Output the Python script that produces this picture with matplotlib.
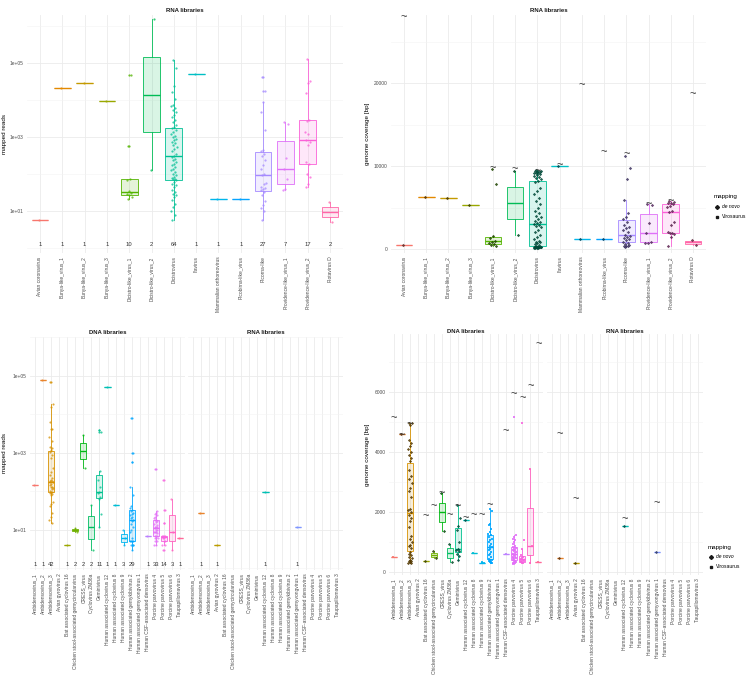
import numpy as np
import matplotlib
matplotlib.use("Agg")
import matplotlib.pyplot as plt
from matplotlib import cbook
from matplotlib.lines import Line2D
from matplotlib.ticker import NullFormatter

plt.rcParams['font.family'] = ['Liberation Sans', 'DejaVu Sans']

# ---------------- data ----------------
rna_viruses = ["Avian coronavirus", "Bunya-like_virus_1", "Bunya-like_virus_2", "Bunya-like_virus_3",
               "Dicistro-like_virus_1", "Dicistro-like_virus_2", "Dicistrovirus", "Ifavirus",
               "Mammalian orthoreovirus", "Picobirna-like_virus", "Picorna-like",
               "Providence-like_virus_1", "Providence-like_virus_2", "Rotavirus D"]

dna_viruses = ["Ambidensovirus_1", "Ambidensovirus_2", "Ambidensovirus_3", "Avian gyrovirus 2",
               "Bat associated cyclovirus 16", "Chicken stool-associated gemycircularvirus",
               "CRESS_virus", "Cyclovirus ZM36a", "Geminivirus", "Human associated cyclovirus 12",
               "Human associated cyclovirus 8", "Human associated cyclovirus 9",
               "Human associated gemykibivirus 2", "Human associated gemyvongvirus 1",
               "Human CSF-associated densovirus", "Porcine parvovirus 4", "Porcine parvovirus 5",
               "Porcine parvovirus 6", "Taupapillomavirus 3"]

# top-left: mapped reads, RNA libraries
tl_reads = [
    [6],
    [22000],
    [30000],
    [9400],
    [22, 24, 28, 29, 32, 35, 70, 75, 600, 48000],
    [130, 1550000],
    [120000, 76000, 24000, 17000, 11000, 7600, 7000, 6000, 5400, 4800, 4000, 3500, 3000, 2600, 2200, 1900,
     1750, 1550, 1400, 1250, 1100, 1000, 900, 830, 750, 700, 610, 550, 480, 420, 360, 320,
     290, 260, 240, 215, 195, 175, 158, 142, 128, 116, 104, 94, 85, 80, 76, 73,
     70, 62, 56, 50, 45, 37, 33, 30, 27, 24, 20, 16, 13, 10, 8, 6],
    [52000],
    [22],
    [21],
    [43000, 17500, 9000, 4700, 1550, 465, 430, 360, 310, 240, 175, 142, 104, 94, 58, 56, 45, 43, 40, 37,
     33, 27, 19, 15, 12, 10, 6],
    [2600, 2300, 280, 142, 76, 41, 38],
    [128000, 33000, 29000, 16000, 3000, 2750, 1400, 1250, 830, 750, 630, 215, 186, 104, 85, 56, 45],
    [18, 5],
]

# top-right: genome coverage, RNA libraries
tr_cov = [
    [500],
    [6300],
    [6100],
    [5300],
    [9640, 7850, 1550, 1300, 1000, 900, 700, 560, 500, 400],
    [9400, 1690],
    [9500, 9450, 9400, 9350, 9300, 9250, 9200, 9150, 9100, 9000, 8900, 8800, 8700, 8500, 8400, 8250,
     8100, 7400, 7000, 6600, 6200, 5800, 5400, 5000, 4600, 4300, 4000, 3800, 3600, 3400, 3200, 3100,
     3000, 2900, 2800, 2600, 2300, 2000, 1700, 1400, 1200, 1000, 900, 800, 700, 600, 500, 420,
     300, 290, 280, 270, 260, 250, 240, 230, 220, 210, 200, 190, 180, 170, 160, 150],
    [10000],
    [1160],
    [1245],
    [11250, 9800, 8400, 5900, 4300, 3900, 3600, 3300, 2900, 2700, 2550, 2300, 2000, 1700, 1600, 1450,
     1300, 1200, 1100, 900, 700, 550, 480, 420, 380, 330, 300],
    [5420, 5260, 3090, 1890, 900, 760, 680],
    [5820, 5700, 5580, 5500, 5420, 5180, 5020, 4540, 4500, 3290, 2890, 2050, 1970, 1890, 1810, 1490, 400],
    [1100, 500],
]
tr_genome_len = [27950, np.nan, np.nan, np.nan, 9760, 9600, 9440, 10120, 19760, 11730, 11450, 5420, 5820, 18700]
tr_mapping = ["de novo"] * 14

# bottom-left: mapped reads, DNA viruses
bl_dna_reads = [
    [143],
    [75000],
    [70000, 18500, 15600, 6100, 4100, 4000, 2600, 2000, 1430, 1300, 1170, 1020, 860, 720, 400, 308, 260,
     219, 201, 185, 179, 170, 170, 156, 143, 131, 127, 121, 111, 102, 97, 93, 90, 86, 79, 51, 47, 41, 28,
     22, 18, 15],
    [],
    [4],
    [11, 9],
    [2900, 410],
    [45, 3],
    [3980, 3360, 336, 201, 131, 97, 90, 72, 61, 25, 12],
    [50000],
    [45],
    [10, 6, 4],
    [7870, 984, 589, 131, 79, 41, 37, 32, 31, 28, 26, 24, 22, 20, 18, 17, 14, 12, 10, 9, 6, 5, 5, 5, 5,
     4, 4, 4, 3],
    [],
    [7],
    [378, 31, 28, 26, 24, 22, 20, 18, 18, 17, 16, 14, 13, 12, 12, 12, 11, 10, 10, 9, 9, 9, 8, 7, 7, 7,
     6, 6, 6, 5, 5, 4, 4],
    [191, 32, 15, 7, 7, 7, 7, 6, 6, 5, 5, 4, 4, 3],
    [64, 9, 3],
    [6],
]
bl_rna_reads = [[], [28], [], [4], [], [], [], [], [], [95], [], [], [], [12], [], [], [], [], []]

# bottom-right: genome coverage, DNA viruses
br_dna_cov = [
    [510],
    [4600],
    [4970, 4950, 4900, 4400, 4300, 4200, 4100, 4000, 3900, 3800, 3700, 3400, 3200, 3100, 2950, 2800,
     2700, 2500, 2100, 2050, 2000, 1900, 1800, 1700, 1500, 1200, 1100, 1000, 900, 850, 800, 650, 600,
     550, 500, 450, 400, 380, 350, 320, 300, 290],
    [],
    [360],
    [700, 450],
    [2630, 1350],
    [940, 320],
    [2230, 1800, 1520, 1400, 1000, 780, 740, 700, 600, 520, 400],
    [1740],
    [640],
    [320, 310, 300],
    [2090, 2030, 1610, 1550, 1440, 1330, 1270, 1220, 1160, 1110, 1050, 990, 940, 880, 830, 770, 720,
     660, 600, 550, 490, 440, 400, 380, 360, 335, 325, 315, 300],
    [],
    [600],
    [5180, 1220, 1160, 1110, 1050, 990, 940, 880, 830, 800, 770, 740, 720, 690, 660, 630, 600, 580,
     550, 510, 490, 470, 450, 425, 400, 380, 360, 335, 325, 315, 300, 290, 280],
    [4980, 1050, 770, 550, 490, 470, 440, 400, 380, 360, 335, 325, 315, 290],
    [3420, 860, 300],
    [320],
]
br_rna_cov = [[], [477], [], [310], [], [], [], [], [], [1530], [], [], [], [667], [], [], [], [], []]
br_dna_len = [5120, 4570, 4930, np.nan, 1870, 2180, 2630, 1880, 2210, 1780, 1880, 1880, 2240, np.nan,
              4700, 5920, 5810, 6200, 7580]
br_rna_len = [np.nan, 4600, np.nan, 2430, np.nan, np.nan, np.nan, np.nan, np.nan, 1770, np.nan, np.nan,
              np.nan, 2300, np.nan, np.nan, np.nan, np.nan, np.nan]
br_dna_mapping = ["Virosaurus", "de novo", "de novo", "de novo", "de novo", "de novo", "de novo",
                  "de novo", "de novo", "de novo", "Virosaurus", "Virosaurus", "Virosaurus", "de novo",
                  "Virosaurus", "Virosaurus", "Virosaurus", "Virosaurus", "Virosaurus"]
br_rna_mapping = ["de novo"] * 19

log_major = [1e1, 1e3, 1e5]
log_major_labels = ["1e+01", "1e+03", "1e+05"]
log_minor = [1e0, 1e2, 1e4, 1e6]


# ---------------- helpers ----------------
def hcl2rgb(h, c, l):
    Xn, Yn, Zn = 95.047, 100.0, 108.883
    hr = np.deg2rad(h)
    U, V = c * np.cos(hr), c * np.sin(hr)
    Y = Yn * ((l + 16) / 116) ** 3 if l > 8 else Yn * l / 903.3
    den = Xn + 15 * Yn + 3 * Zn
    un, vn = 4 * Xn / den, 9 * Yn / den
    u = U / (13 * l) + un
    v = V / (13 * l) + vn
    X = 9 * Y * u / (4 * v)
    Z = -X / 3 - 5 * Y + 3 * Y / v
    X, Y, Z = X / 100, Y / 100, Z / 100
    rgb = [3.240479 * X - 1.537150 * Y - 0.498535 * Z,
           -0.969256 * X + 1.875992 * Y + 0.041556 * Z,
           0.055648 * X - 0.204043 * Y + 1.057311 * Z]
    out = []
    for t in rgb:
        t = max(t, 0.0)
        t = 12.92 * t if t <= 0.0031308 else 1.055 * t ** (1 / 2.4) - 0.055
        out.append(min(max(t, 0.0), 1.0))
    return tuple(out)


def hue_pal(n):
    return [hcl2rgb(h % 360, 100, 65) for h in np.linspace(15, 375, n + 1)[:-1]]


W, H = 750, 686
fig = plt.figure(figsize=(W / 100, H / 100), dpi=100)
fig.patch.set_facecolor("white")


def add_ax(x0, x1, y0, y1):
    return fig.add_axes([x0 / W, 1 - y1 / H, (x1 - x0) / W, (y1 - y0) / H])


GRID = "#EBEBEB"
TICKC = "#4D4D4D"


def style(ax, cats, log, yticks, ylabels, yminor, ylim, showy=True):
    n = len(cats)
    for s in ax.spines.values():
        s.set_visible(False)
    if log:
        ax.set_yscale("log")
    ax.set_xlim(-0.6, n - 0.4)
    ax.set_ylim(*ylim)
    ax.set_xticks(range(n))
    ax.set_xticklabels(cats, rotation=90, ha="center", va="top")
    ax.set_yticks(yticks)
    ax.set_yticklabels(ylabels)
    ax.set_yticks(yminor, minor=True)
    ax.yaxis.set_minor_formatter(NullFormatter())
    ax.set_axisbelow(True)
    ax.grid(True, axis="x", which="major", color=GRID, lw=0.6)
    ax.grid(True, axis="y", which="major", color=GRID, lw=0.6)
    ax.grid(True, axis="y", which="minor", color="#F3F3F3", lw=0.4)
    ax.tick_params(axis="both", which="both", length=0, labelsize=3.5, colors=TICKC, pad=2.5)
    if not showy:
        ax.tick_params(axis="y", labelleft=False)


def draw(ax, values, cols, log, mapping=None, lengths=None, counts=False, jw=0.17, ps=2.6):
    for i, vals in enumerate(values):
        if lengths is not None and not np.isnan(lengths[i]):
            ax.text(i, lengths[i], "~", ha="center", va="center", fontsize=8, color="#3a3a3a", zorder=6)
        if len(vals) == 0:
            continue
        v = np.asarray(vals, float)
        col = cols[i]
        tv = np.log10(v) if log else v
        st = cbook.boxplot_stats(tv, whis=1.5)[0]
        if log:
            for k in ("med", "q1", "q3", "whislo", "whishi", "mean"):
                st[k] = 10 ** st[k]
            st["fliers"] = 10 ** np.asarray(st["fliers"])
        ax.bxp([st], positions=[i], widths=0.75, patch_artist=True, showfliers=False, showcaps=False,
               manage_ticks=False,
               boxprops=dict(facecolor=(*col, 0.15), edgecolor=col, linewidth=0.6),
               medianprops=dict(color=col, linewidth=1.0),
               whiskerprops=dict(color=col, linewidth=0.6))
        fl = np.asarray(st["fliers"])
        k = np.arange(len(v))
        off = ((k * 0.6180339887 + 0.31) % 1.0 - 0.5) * 2 * jw
        if mapping is None:
            if len(fl):
                ax.scatter(np.full(len(fl), i), fl, s=ps, color=col, lw=0, alpha=0.8, zorder=3)
            ax.scatter(i + off, v, s=ps, color=col, alpha=0.75, lw=0, zorder=4)
        else:
            if mapping[i] == "de novo":
                dark = tuple(np.array(col) * 0.38)
                ax.scatter(i + off, v, s=ps * 1.1, marker="D", color=dark, alpha=0.85, lw=0, zorder=4)
            else:
                ax.scatter(i + off, v, s=ps * 1.1, marker="s", color=col, alpha=0.85, lw=0, zorder=4)
        if counts:
            ax.text(i, 1.25, str(len(vals)), ha="center", va="center", fontsize=4.2, color="#333333")


rna_cols = hue_pal(len(rna_viruses))
dna_cols = hue_pal(len(dna_viruses))

# ---- top-left ----
ax = add_ax(26.6, 343.4, 15, 253)
style(ax, rna_viruses, True, log_major, log_major_labels, log_minor, (10 ** -0.127, 10 ** 6.305))
draw(ax, tl_reads, rna_cols, True, counts=True, jw=0.12)

# ---- top-right ----
ax = add_ax(390.7, 706.3, 15, 253)
style(ax, rna_viruses, False, [0, 10000, 20000], ["0", "10000", "20000"], [5000, 15000, 25000], (-480, 28195))
draw(ax, tr_cov, rna_cols, False, mapping=tr_mapping, lengths=tr_genome_len, jw=0.17)

# ---- bottom-left ----
ax = add_ax(30.2, 184.8, 337, 570)
style(ax, dna_viruses, True, log_major, log_major_labels, log_minor, (10 ** -0.044, 10 ** 5.133))
draw(ax, bl_dna_reads, dna_cols, True, counts=True, jw=0.22, ps=2.4)
ax = add_ax(188.2, 342.8, 337, 570)
style(ax, dna_viruses, True, log_major, log_major_labels, log_minor, (10 ** -0.044, 10 ** 5.133), showy=False)
draw(ax, bl_rna_reads, dna_cols, True, counts=True, jw=0.22, ps=2.4)

# ---- bottom-right ----
ax = add_ax(389.2, 543.1, 334, 575)
style(ax, dna_viruses, False, [0, 2000, 4000, 6000], ["0", "2000", "4000", "6000"],
      [1000, 3000, 5000, 7000], (-100, 7933))
draw(ax, br_dna_cov, dna_cols, False, mapping=br_dna_mapping, lengths=br_dna_len, jw=0.22, ps=2.4)
ax = add_ax(546.8, 702.6, 334, 575)
style(ax, dna_viruses, False, [0, 2000, 4000, 6000], ["0", "2000", "4000", "6000"],
      [1000, 3000, 5000, 7000], (-100, 7933), showy=False)
draw(ax, br_rna_cov, dna_cols, False, mapping=br_rna_mapping, lengths=br_rna_len, jw=0.22, ps=2.4)

# ---- strip titles ----
def ftext(x, y, s, **kw):
    fig.text(x / W, 1 - y / H, s, **kw)

for (x, y, s) in [(185, 11, "RNA libraries"), (548.5, 11, "RNA libraries"),
                  (107.5, 333, "DNA libraries"), (265.5, 333, "RNA libraries"),
                  (466, 331, "DNA libraries"), (624.7, 331, "RNA libraries")]:
    ftext(x, y, s, ha="center", va="center", fontsize=4.3, fontweight="bold", color="#1A1A1A")

# ---- axis titles ----
ftext(5, 134, "mapped reads", rotation=90, ha="center", va="center", fontsize=4.5)
ftext(5, 453, "mapped reads", rotation=90, ha="center", va="center", fontsize=4.5)
ftext(368, 134, "genome coverage [bp]", rotation=90, ha="center", va="center", fontsize=4.5)
ftext(368, 455, "genome coverage [bp]", rotation=90, ha="center", va="center", fontsize=4.5)

# ---- legends ----
def legend(x, y):
    ftext(x, y, "mapping", ha="left", va="center", fontsize=4.5)
    for j, (lab, mk, st) in enumerate([("de novo", "D", "italic"), ("Virosaurus", "s", "normal")]):
        yy = y + 10 + 9.5 * j
        fig.add_artist(Line2D([(x + 3) / W], [1 - yy / H], transform=fig.transFigure, marker=mk,
                              markersize=2.0, color="#1A1A1A", lw=0))
        ftext(x + 8, yy, lab, ha="left", va="center", fontsize=3.6, style=st)

legend(714, 197)
legend(708, 547)

fig.savefig("out.png", dpi=100, facecolor="white")
